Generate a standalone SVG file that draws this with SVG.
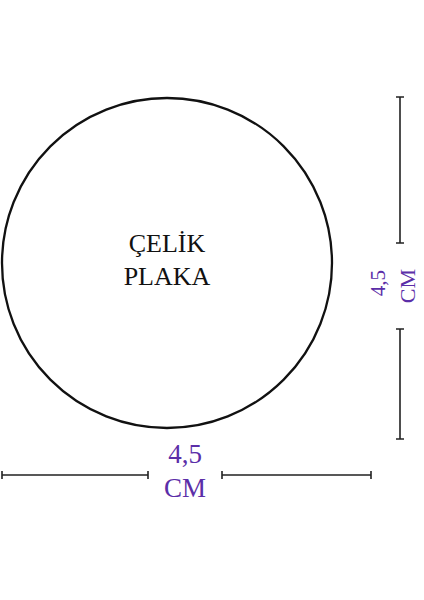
<svg xmlns="http://www.w3.org/2000/svg" width="424" height="600" viewBox="0 0 424 600">
<style>
.lbl{font-family:"Liberation Serif","Times New Roman",serif;fill:#111;font-size:26px;text-anchor:middle}
.dim{font-family:"Liberation Serif","Times New Roman",serif;fill:#5b2ea8;text-anchor:middle}
.ln{stroke:#222;stroke-width:1.6;fill:none}
</style>
<rect width="424" height="600" fill="#fff"/>
<g id="plate">
<circle cx="167" cy="263" r="165" fill="none" stroke="#111" stroke-width="2.3"/>
<text class="lbl" x="167" y="252">ÇELİK</text>
<text class="lbl" x="167" y="285">PLAKA</text>
</g>
<g id="connectors">
<path class="ln" d="M400 97V243M396 97H404M396 243H404"/>
<path class="ln" d="M400 329V439M396 329H404M396 439H404"/>
<path class="ln" d="M2 475H148M2 471V479M148 471V479"/>
<path class="ln" d="M222 475H371M222 471V479M371 471V479"/>
</g>
<g id="dim-vertical">
<text class="dim" font-size="21" transform="translate(385 283) rotate(-90)">4,5</text>
<text class="dim" font-size="22" transform="translate(415 286) rotate(-90)">CM</text>
</g>
<g id="dim-horizontal">
<text class="dim" font-size="27" x="185" y="463">4,5</text>
<text class="dim" font-size="27" x="185" y="497">CM</text>
</g>
</svg>
